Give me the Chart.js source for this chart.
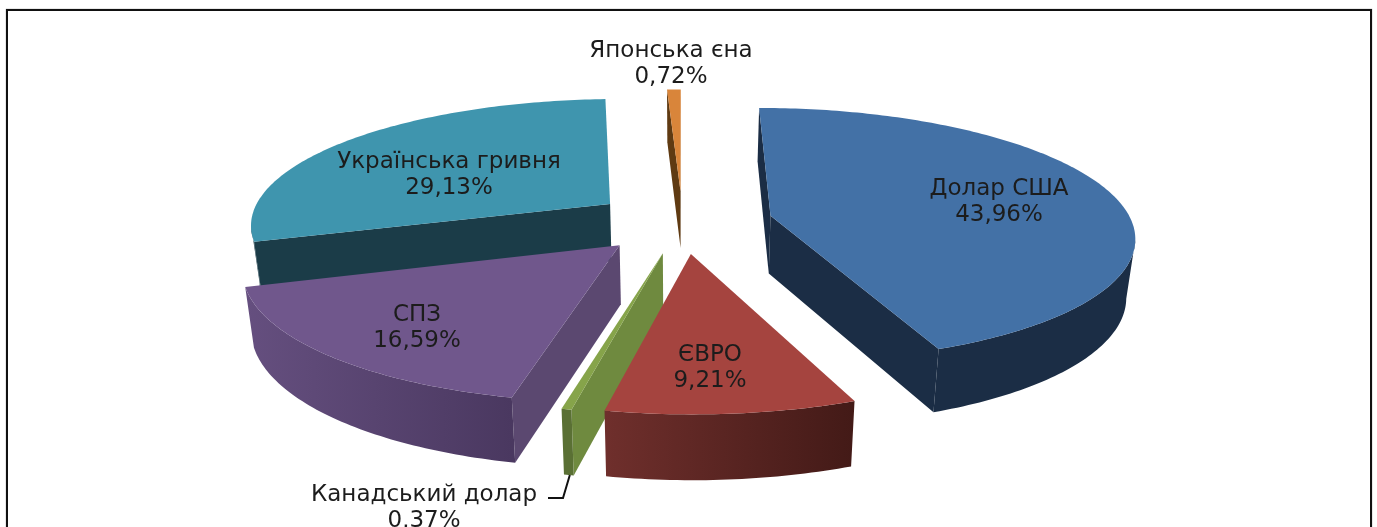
<!DOCTYPE html><html lang="uk">
<head>
    <meta charset="UTF-8">
    <title>Валютна структура</title>
    <script src="https://cdn.jsdelivr.net/npm/chart.js"></script>
    <style>
        html, body { margin: 0; background: #fff; overflow: hidden; }
        #wrap { position: relative; width: 1377px; height: 527px; overflow: hidden; }
        #frame { position: absolute; left: 6px; top: 9px; width: 1362px; height: 600px; border: 2px solid #111; box-shadow: 0 0 1px #777; }
        canvas { position: absolute; left: 0; top: 0; filter: blur(0.6px); }
    </style>
</head>
<body>
    <div id="wrap">
        <div id="frame"></div>
        <canvas id="pie" width="1377" height="527"></canvas>
    </div>
<script>
    const categories = ["Долар США", "ЄВРО", "Канадський долар", "СПЗ", "Українська гривня", "Японська єна"];
    const shares = [43.96, 9.21, 0.37, 16.59, 29.13, 0.72];

    // colours: top face, radial cut face, curved wall (left and right end)
    const topColors = ["#4371a6", "#a5443f", "#86a44a", "#70578c", "#3f95ae", "#d9853a"];
    const faceColors = ["#1b2d45", "#6b2b28", "#6f8a3f", "#5b4870", "#1b3c48", "#5f3a12"];
    const wallLeft = ["#1b2d45", "#6f2f2c", "#5a7034", "#654f7f", "#1b3c48", "#5f3a12"];
    const wallRight = ["#1b2d45", "#431a17", "#5a7034", "#4a3860", "#1b3c48", "#5f3a12"];

    // centre of each text block, in canvas pixels
    const labelCenters = [[999, 202], [710, 368.5], [424, 508], [417, 328.5], [449, 175], [671, 64.5]];

    // how the flat pie is laid into 3D
    const explode = 0.25;
    const stretchX = 1.63, stretchY = 0.5666, perspective = 0.15;
    const bottomShrink = 0.98;

    function project(arc, u, v) {
        const w = 1 - perspective * v;
        return {
            x: arc.x + arc.outerRadius * stretchX * u / w,
            y: arc.y + arc.outerRadius * stretchY * v / w,
            w: w
        };
    }

    function drop(arc, p) {
        return { x: arc.x + (p.x - arc.x) * bottomShrink, y: p.y + 24 + 34 / p.w };
    }

    function fillPoly(ctx, pts, color) {
        ctx.beginPath();
        pts.forEach((p, i) => i ? ctx.lineTo(p.x, p.y) : ctx.moveTo(p.x, p.y));
        ctx.closePath();
        ctx.fillStyle = color;
        ctx.fill();
    }

    function wall(ctx, arc, run, color) {
        if (run.length > 1) fillPoly(ctx, run.concat(run.map(p => drop(arc, p)).reverse()), color);
    }

    function drawSlice(ctx, arc, i) {
        const mid = (arc.startAngle + arc.endAngle) / 2;
        const cu = Math.cos(mid) * explode, cv = Math.sin(mid) * explode;
        const apex = project(arc, cu, cv);

        let rim = [];
        const steps = Math.max(4, Math.ceil((arc.endAngle - arc.startAngle) * 60));
        for (let s = 0; s <= steps; s++) {
            const a = arc.startAngle + (arc.endAngle - arc.startAngle) * s / steps;
            rim.push(project(arc, cu + Math.cos(a), cv + Math.sin(a)));
        }
        const first = rim[0], last = rim[rim.length - 1];

        // a side can be seen only where the outline runs leftwards
        if (first.x < apex.x) wall(ctx, arc, [apex, first], faceColors[i]);
        if (apex.x < last.x) wall(ctx, arc, [last, apex], faceColors[i]);

        let run = [];
        for (let s = 0; s < rim.length - 1; s++) {
            if (rim[s + 1].x < rim[s].x) {
                if (!run.length) run.push(rim[s]);
                run.push(rim[s + 1]);
            }
        }
        if (run.length) {
            const g = ctx.createLinearGradient(run[run.length - 1].x, 0, run[0].x, 0);
            g.addColorStop(0, wallLeft[i]);
            g.addColorStop(1, wallRight[i]);
            wall(ctx, arc, run, g);
        }

        fillPoly(ctx, [apex].concat(rim), arc.options.backgroundColor);
    }

    const pie3d = {
        id: "pie3d",
        beforeDatasetDraw(chart) {
            const ctx = chart.ctx;
            const arcs = chart.getDatasetMeta(0).data;
            const order = arcs.map((a, i) => i).sort((p, q) =>
                Math.sin((arcs[p].startAngle + arcs[p].endAngle) / 2) - Math.sin((arcs[q].startAngle + arcs[q].endAngle) / 2));
            ctx.save();
            order.forEach(i => drawSlice(ctx, arcs[i], i));
            ctx.restore();
            return false;
        },
        afterDraw(chart) {
            const ctx = chart.ctx;
            ctx.save();

            // leader line of the thin slice
            const arc = chart.getDatasetMeta(0).data[2];
            const mid = (arc.startAngle + arc.endAngle) / 2;
            const p = drop(arc, project(arc, Math.cos(mid) * (1 + explode), Math.sin(mid) * (1 + explode)));
            ctx.beginPath();
            ctx.moveTo(p.x + 1, p.y);
            ctx.lineTo(563, 498);
            ctx.lineTo(548, 498);
            ctx.strokeStyle = "#111";
            ctx.lineWidth = 2;
            ctx.stroke();

            ctx.font = "23px 'DejaVu Sans'";
            ctx.textAlign = "center";
            ctx.textBaseline = "middle";
            ctx.fillStyle = "#1c1c1c";
            categories.forEach((name, i) => {
                const [x, y] = labelCenters[i];
                ctx.fillText(name, x, y - 13);
                ctx.fillText(shares[i].toFixed(2).replace(".", ",") + "%", x, y + 13);
            });
            ctx.restore();
        }
    };

    new Chart(document.getElementById("pie"), {
        type: "pie",
        data: {
            labels: categories,
            datasets: [{ data: shares, backgroundColor: topColors, borderWidth: 0 }]
        },
        options: {
            responsive: false,
            animation: false,
            events: [],
            rotation: 0,
            layout: { padding: { right: 12, bottom: 84 } },
            plugins: { legend: { display: false }, tooltip: { enabled: false } }
        },
        plugins: [pie3d]
    });
</script>
</body>
</html>
